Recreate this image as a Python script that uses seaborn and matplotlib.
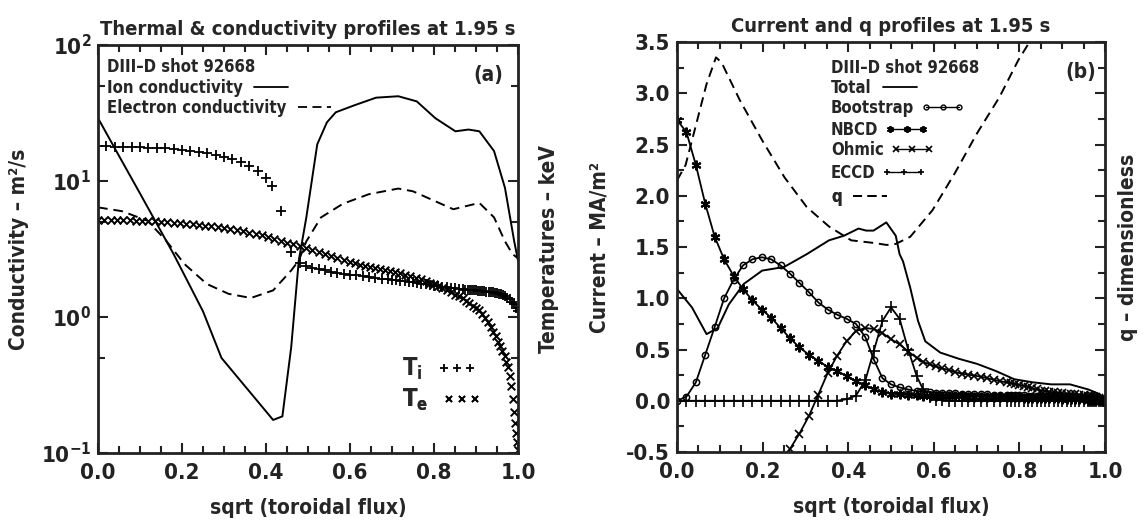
import pandas as pd
import matplotlib
matplotlib.use("Agg")
import matplotlib.pyplot as plt
from matplotlib.lines import Line2D
from matplotlib.ticker import MultipleLocator, LogLocator, NullFormatter, FormatStrFormatter
import seaborn as sns

# ---- (a) thermal & conductivity profiles at 1.95 s ----
ion_x = [0.0, 0.05, 0.1, 0.136, 0.18, 0.2, 0.25, 0.294, 0.35, 0.417, 0.439, 0.46, 0.478, 0.496,
         0.522, 0.545, 0.566, 0.61, 0.662, 0.715, 0.759, 0.803, 0.851, 0.882, 0.908, 0.943,
         0.969, 0.991, 1.0]
ion_chi = [29, 15.3, 8.1, 5.1, 2.9, 2.2, 1.1, 0.5, 0.31, 0.175, 0.186, 0.6, 2.6, 5.4,
           18.6, 27, 32, 36, 41, 42, 38.5, 29, 23.2, 23.9, 23.2, 16.6,
           8.9, 3.6, 2.6]

elec_x = [0.0, 0.057, 0.118, 0.162, 0.206, 0.259, 0.311, 0.364, 0.417, 0.46, 0.478, 0.496,
          0.531, 0.583, 0.645, 0.715, 0.75, 0.803, 0.846, 0.882, 0.908, 0.943, 0.969, 0.987, 1.0]
elec_chi = [6.4, 6.0, 5.1, 3.65, 2.45, 1.75, 1.48, 1.38, 1.57, 2.2, 2.6, 3.6,
            5.4, 6.8, 8.0, 8.8, 8.4, 7.1, 6.2, 6.6, 6.9, 5.4, 3.6, 2.9, 2.7]

ti_x = [0.00, 0.02, 0.04, 0.06, 0.08, 0.10, 0.12, 0.14, 0.16, 0.18, 0.20, 0.22, 0.24, 0.26,
        0.28, 0.30, 0.32, 0.34, 0.36, 0.38, 0.40,
        0.415, 0.435, 0.46, 0.48, 0.495,
        0.51, 0.525, 0.54, 0.555, 0.57, 0.585, 0.60, 0.615, 0.63, 0.645, 0.66, 0.675, 0.69,
        0.70, 0.71, 0.72, 0.73, 0.74, 0.75, 0.76, 0.77, 0.78, 0.79, 0.80, 0.81, 0.82, 0.83,
        0.84, 0.85, 0.86, 0.87,
        0.875, 0.88, 0.885, 0.89, 0.895, 0.90, 0.905, 0.91, 0.915, 0.92, 0.925, 0.93, 0.935,
        0.94, 0.945, 0.95, 0.955, 0.96, 0.965, 0.97, 0.975, 0.98, 0.985, 0.99, 0.995, 1.0]
ti_kev = [18.0, 18.0, 17.9, 17.9, 17.8, 17.7, 17.6, 17.5, 17.4, 17.2, 17.0, 16.7, 16.4, 16.0,
          15.5, 15.0, 14.4, 13.7, 12.8, 11.8, 10.6,
          9.2, 6.0, 3.0, 2.5, 2.38,
          2.30, 2.25, 2.20, 2.16, 2.12, 2.08, 2.05, 2.02, 1.99, 1.96, 1.94, 1.91, 1.89,
          1.87, 1.86, 1.85, 1.84, 1.82, 1.80, 1.78, 1.76, 1.74, 1.72, 1.70, 1.68, 1.67, 1.65,
          1.64, 1.63, 1.61, 1.60,
          1.59, 1.59, 1.58, 1.58, 1.57, 1.57, 1.56, 1.56, 1.55, 1.55, 1.54, 1.53, 1.53,
          1.52, 1.51, 1.50, 1.48, 1.47, 1.45, 1.42, 1.39, 1.35, 1.30, 1.24, 1.17, 1.10]

te_x = [0.000, 0.015, 0.030, 0.045, 0.060, 0.075, 0.090, 0.105, 0.120, 0.135, 0.150, 0.165,
        0.180, 0.195, 0.210, 0.225, 0.240, 0.255, 0.270, 0.285, 0.300, 0.315, 0.330, 0.345,
        0.360, 0.375, 0.390, 0.405, 0.420, 0.435, 0.450, 0.465, 0.480, 0.495, 0.510, 0.525,
        0.540, 0.555, 0.570, 0.585, 0.600,
        0.612, 0.624, 0.636, 0.648, 0.660, 0.672, 0.684, 0.696, 0.708, 0.720, 0.732, 0.744,
        0.756, 0.768, 0.780,
        0.79, 0.80, 0.81, 0.82, 0.83, 0.84, 0.85, 0.86,
        0.868, 0.876, 0.884, 0.892, 0.900, 0.907, 0.914, 0.921, 0.928, 0.935,
        0.941, 0.947, 0.953, 0.958, 0.963, 0.968, 0.972, 0.976, 0.980, 0.984,
        0.987, 0.990, 0.993, 0.996, 0.998, 1.000]
te_kev = [5.20, 5.20, 5.19, 5.18, 5.17, 5.15, 5.12, 5.10, 5.07, 5.04, 5.01, 4.98,
          4.95, 4.91, 4.87, 4.82, 4.76, 4.70, 4.64, 4.57, 4.50, 4.43, 4.35, 4.27,
          4.18, 4.09, 3.98, 3.87, 3.74, 3.62, 3.52, 3.42, 3.32, 3.22, 3.11, 3.01,
          2.91, 2.81, 2.72, 2.63, 2.55,
          2.49, 2.43, 2.38, 2.34, 2.30, 2.26, 2.22, 2.18, 2.13, 2.09, 2.04, 1.99,
          1.94, 1.89, 1.83,
          1.79, 1.74, 1.69, 1.64, 1.58, 1.52, 1.46, 1.42,
          1.37, 1.32, 1.26, 1.20, 1.16, 1.12, 1.06, 0.99, 0.92, 0.84,
          0.78, 0.72, 0.66, 0.61, 0.56, 0.52, 0.47, 0.43, 0.37, 0.31,
          0.25, 0.20, 0.165, 0.14, 0.12, 0.105]

# ---- (b) current and q profiles at 1.95 s ----
rho = [0.0, 0.022, 0.044, 0.066, 0.088, 0.11, 0.132, 0.154, 0.176, 0.198, 0.22, 0.242,
       0.264, 0.286, 0.308, 0.33, 0.352, 0.374, 0.396, 0.418, 0.44,
       0.46, 0.48, 0.50, 0.52, 0.54, 0.56,
       0.575, 0.59, 0.605, 0.62, 0.635, 0.65, 0.665, 0.68, 0.695, 0.71, 0.725, 0.74, 0.755, 0.77,
       0.78, 0.79, 0.80, 0.81, 0.82, 0.83, 0.84, 0.85, 0.86, 0.87, 0.88, 0.89, 0.90, 0.91,
       0.92, 0.93, 0.94, 0.95, 0.96,
       0.965, 0.97, 0.975, 0.98, 0.985, 0.99, 0.995, 1.0]
bootstrap = [0.0, 0.04, 0.18, 0.45, 0.72, 1.0, 1.18, 1.32, 1.38, 1.40, 1.38, 1.32,
             1.24, 1.15, 1.06, 0.96, 0.89, 0.84, 0.80, 0.75, 0.62,
             0.40, 0.22, 0.16, 0.13, 0.11, 0.095,
             0.09, 0.085, 0.08, 0.078, 0.075, 0.072, 0.07, 0.068, 0.066, 0.064, 0.062, 0.06, 0.058, 0.056,
             0.055, 0.054, 0.053, 0.052, 0.05, 0.049, 0.048, 0.046, 0.045, 0.044, 0.042, 0.04, 0.038, 0.036,
             0.034, 0.032, 0.03, 0.027, 0.024,
             0.022, 0.02, 0.018, 0.015, 0.012, 0.009, 0.005, 0.0]
nbcd = [2.74, 2.62, 2.30, 1.92, 1.60, 1.38, 1.22, 1.09, 0.98, 0.89, 0.81, 0.71,
        0.61, 0.52, 0.45, 0.39, 0.33, 0.29, 0.24, 0.19, 0.15,
        0.11, 0.085, 0.07, 0.062, 0.057, 0.053,
        0.05, 0.048, 0.046, 0.045, 0.044, 0.043, 0.042, 0.041, 0.04, 0.039, 0.038, 0.037, 0.036, 0.035,
        0.034, 0.033, 0.032, 0.031, 0.03, 0.029, 0.028, 0.027, 0.026, 0.025, 0.024, 0.023, 0.022, 0.021,
        0.02, 0.018, 0.016, 0.014, 0.012,
        0.011, 0.01, 0.008, 0.007, 0.005, 0.004, 0.002, 0.0]
eccd = [0.0, 0.0, 0.0, 0.0, 0.0, 0.0, 0.0, 0.0, 0.0, 0.0, 0.0, 0.0,
        0.0, 0.0, 0.0, 0.0, 0.0, 0.0, 0.015, 0.05, 0.20,
        0.49, 0.78, 0.91, 0.80, 0.50, 0.24,
        0.11, 0.04, 0.012, 0.004, 0.0, 0.0, 0.0, 0.0, 0.0, 0.0, 0.0, 0.0, 0.0, 0.0,
        0.0, 0.0, 0.0, 0.0, 0.0, 0.0, 0.0, 0.0, 0.0, 0.0, 0.0, 0.0, 0.0, 0.0,
        0.0, 0.0, 0.0, 0.0, 0.0,
        0.0, 0.0, 0.0, 0.0, 0.0, 0.0, 0.0, 0.0]
ohmic_x = rho[10:]
ohmic = [-0.85, -0.65, -0.47, -0.32, -0.15, 0.06, 0.27, 0.44, 0.58, 0.68, 0.71,
         0.70, 0.66, 0.60, 0.55, 0.48, 0.42,
         0.38, 0.355, 0.335, 0.315, 0.30, 0.28, 0.265, 0.255, 0.245, 0.235, 0.22, 0.205, 0.19, 0.18,
         0.17, 0.16, 0.155, 0.145, 0.135, 0.12, 0.11, 0.10, 0.095, 0.088, 0.082, 0.078, 0.074, 0.07,
         0.067, 0.064, 0.06, 0.056, 0.05,
         0.047, 0.043, 0.038, 0.032, 0.025, 0.017, 0.009, 0.0]
total_x = [0.0, 0.035, 0.069, 0.095, 0.121, 0.156, 0.199, 0.25, 0.303, 0.355, 0.39, 0.424,
           0.442, 0.459, 0.489, 0.511, 0.52, 0.528, 0.545, 0.563, 0.58, 0.615, 0.658, 0.701,
           0.745, 0.788, 0.831, 0.874, 0.918, 0.961, 0.987, 1.0]
total_j = [1.09, 0.91, 0.65, 0.71, 0.94, 1.14, 1.27, 1.305, 1.43, 1.565, 1.61, 1.68,
           1.66, 1.66, 1.74, 1.61, 1.43, 1.36, 1.10, 0.78, 0.58, 0.47, 0.41, 0.36,
           0.29, 0.21, 0.18, 0.16, 0.16, 0.11, 0.065, 0.0]
q_x = [0.0, 0.02, 0.043, 0.069, 0.091, 0.104, 0.147, 0.199, 0.251, 0.303, 0.355, 0.407,
       0.459, 0.49, 0.511, 0.545, 0.597, 0.649, 0.701, 0.753, 0.797, 0.831]
q_prof = [2.15, 2.30, 2.67, 3.09, 3.35, 3.30, 2.93, 2.54, 2.18, 1.89, 1.70, 1.565,
          1.54, 1.52, 1.53, 1.60, 1.86, 2.22, 2.61, 2.96, 3.32, 3.55]

sns.set_style("ticks")
plt.rcParams['font.family'] = ['DejaVu Sans']
plt.rcParams['font.stretch'] = 'condensed'
plt.rcParams['font.weight'] = 'bold'
plt.rcParams['axes.labelweight'] = 'bold'
plt.rcParams['axes.titleweight'] = 'bold'
plt.rcParams['mathtext.fontset'] = 'custom'
plt.rcParams['mathtext.rm'] = 'DejaVu Sans:bold'
plt.rcParams['mathtext.it'] = 'DejaVu Sans:bold'
plt.rcParams['mathtext.bf'] = 'DejaVu Sans:bold'
plt.rcParams['mathtext.default'] = 'regular'

fig = plt.figure(figsize=(11.45, 5.27), dpi=100)
ax1 = fig.add_axes([0.0856, 0.1404, 0.3668, 0.7742])
ax2 = fig.add_axes([0.5913, 0.1423, 0.3738, 0.7780])

line_kw = dict(color='k', estimator=None, sort=False, legend=False)
dash = (0, (5, 3))

# panel (a)
sns.lineplot(x=ion_x, y=ion_chi, ax=ax1, linewidth=1.4, **line_kw)
sns.lineplot(x=elec_x, y=elec_chi, ax=ax1, linewidth=1.4, linestyle=dash, **line_kw)
sns.scatterplot(x=ti_x, y=ti_kev, ax=ax1, marker='+', s=45, color='k', linewidth=1.3, legend=False)
sns.scatterplot(x=te_x, y=te_kev, ax=ax1, marker='x', s=30, color='k', linewidth=1.4, legend=False)

# panel (b)
sns.lineplot(x=total_x, y=total_j, ax=ax2, linewidth=1.4, **line_kw)
sns.lineplot(x=q_x, y=q_prof, ax=ax2, linewidth=1.4, linestyle=dash, **line_kw)
sns.lineplot(x=rho, y=bootstrap, ax=ax2, linewidth=1.3, marker='o', markersize=4.5,
             markerfacecolor='none', markeredgecolor='k', markeredgewidth=1.1, **line_kw)
sns.lineplot(x=rho, y=nbcd, ax=ax2, linewidth=1.3, marker=(6, 2, 0), markersize=7,
             markeredgecolor='k', markeredgewidth=1.5, **line_kw)
sns.lineplot(x=ohmic_x, y=ohmic, ax=ax2, linewidth=1.3, marker='x', markersize=6,
             markeredgecolor='k', markeredgewidth=1.2, **line_kw)
sns.lineplot(x=rho, y=eccd, ax=ax2, linewidth=1.3, marker='+', markersize=8,
             markeredgecolor='k', markeredgewidth=1.2, **line_kw)

for ax in (ax1, ax2):
    ax.set_xlim(0, 1)
    ax.xaxis.set_major_locator(MultipleLocator(0.2))
    ax.xaxis.set_minor_locator(MultipleLocator(0.05))
    ax.xaxis.set_major_formatter(FormatStrFormatter('%.1f'))
    ax.tick_params(which='both', direction='in', top=True, right=True, width=1.5, colors='#222222')
    ax.tick_params(which='major', length=7, labelsize=16, pad=5)
    ax.tick_params(axis='x', which='major', pad=7)
    ax.tick_params(which='minor', length=5)
    for s in ax.spines.values():
        s.set_linewidth(2)
        s.set_color('#222222')
    ax.set_xlabel('sqrt (toroidal flux)', fontsize=15, labelpad=11)

ax1.set_yscale('log')
ax1.set_ylim(0.1, 100)
ax1.yaxis.set_minor_locator(LogLocator(base=10, subs=[5.0]))
ax1.yaxis.set_minor_formatter(NullFormatter())
ax1.set_title('Thermal & conductivity profiles at 1.95 s', fontsize=14.5, pad=7)
ax1.set_ylabel('Conductivity – m²/s', fontsize=15, labelpad=8)
ax1.text(1.075, 0.5, 'Temperatures – keV', transform=ax1.transAxes, rotation=90,
         ha='center', va='center', fontsize=15)

ax2.set_ylim(-0.5, 3.5)
ax2.yaxis.set_major_locator(MultipleLocator(0.5))
ax2.yaxis.set_minor_locator(MultipleLocator(0.25))
ax2.yaxis.set_major_formatter(FormatStrFormatter('%.1f'))
ax2.set_title('Current and q profiles at 1.95 s', fontsize=14.5, pad=7)
ax2.set_ylabel('Current – MA/m²', fontsize=15, labelpad=12)
ax2.text(1.054, 0.5, 'q – dimensionless', transform=ax2.transAxes, rotation=90,
         ha='center', va='center', fontsize=15)


def key(ax, x, y, label, handle, size=12, hl=2.6, pad=0.4):
    leg = ax.legend([handle], [label], loc='center left', bbox_to_anchor=(x, y),
                    bbox_transform=ax.transAxes, frameon=False, markerfirst=False,
                    borderpad=0, borderaxespad=0, handletextpad=pad, handlelength=hl,
                    numpoints=3, fontsize=size)
    ax.add_artist(leg)


# panel (a) annotations
ax1.text(0.021, 0.946, 'DIII–D shot 92668', transform=ax1.transAxes, va='center', fontsize=12)
key(ax1, 0.021, 0.895, 'Ion conductivity', Line2D([], [], color='k', lw=1.3))
key(ax1, 0.021, 0.846, 'Electron conductivity', Line2D([], [], color='k', lw=1.3, ls=dash))
ax1.text(0.966, 0.926, '(a)', transform=ax1.transAxes, ha='right', va='center', fontsize=15)
key(ax1, 0.724, 0.205, 'T$_\\mathregular{i}$',
    Line2D([], [], color='k', ls='none', marker='+', ms=6, mew=1.3), size=17, hl=1.7, pad=0.6)
key(ax1, 0.724, 0.13, 'T$_\\mathregular{e}$',
    Line2D([], [], color='k', ls='none', marker='x', ms=5, mew=1.3), size=17, hl=1.7, pad=0.6)

# panel (b) annotations
bx = 0.36
ax2.text(bx, 0.937, 'DIII–D shot 92668', transform=ax2.transAxes, va='center', fontsize=12)
key(ax2, bx, 0.888, 'Total', Line2D([], [], color='k', lw=1.3))
key(ax2, bx, 0.839, 'Bootstrap', Line2D([], [], color='k', lw=1.0, marker='o', ms=3.5,
                                        mfc='none', mew=1.0))
key(ax2, bx, 0.785, 'NBCD', Line2D([], [], color='k', lw=1.0, marker=(6, 2, 0), ms=5, mew=1.3))
key(ax2, bx, 0.737, 'Ohmic', Line2D([], [], color='k', lw=1.0, marker='x', ms=4, mew=1.2))
key(ax2, bx, 0.680, 'ECCD', Line2D([], [], color='k', lw=1.0, marker='+', ms=5, mew=1.2))
key(ax2, bx, 0.622, 'q', Line2D([], [], color='k', lw=1.3, ls=dash))
ax2.text(0.979, 0.927, '(b)', transform=ax2.transAxes, ha='right', va='center', fontsize=15)

fig.savefig('out.png', dpi=100)
